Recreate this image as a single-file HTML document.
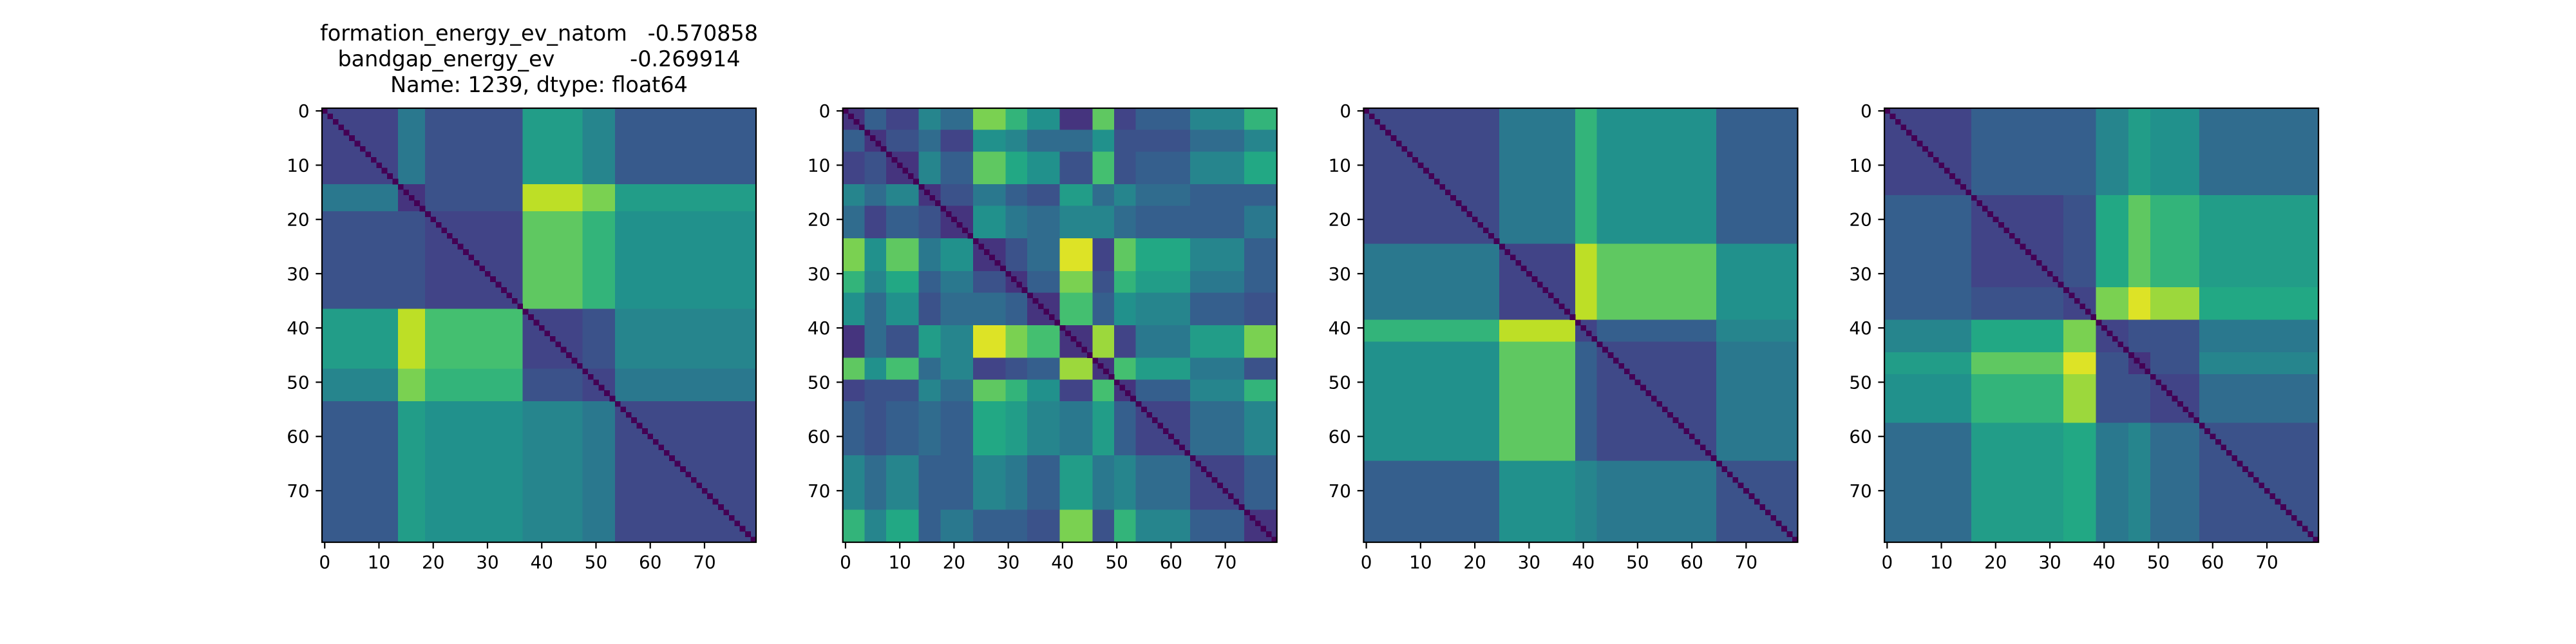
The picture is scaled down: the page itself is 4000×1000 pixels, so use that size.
<!DOCTYPE html>
<html><head><meta charset="utf-8"><style>
html,body{margin:0;padding:0;background:#fff;}
svg{display:block;}
text{font-family:"DejaVu Sans","Liberation Sans",sans-serif;font-size:27.8px;fill:#000;}
.ttl{font-size:33.4px;}
</style></head><body>
<svg id="fig" width="4000" height="1000" viewBox="0 0 4000 1000" xmlns="http://www.w3.org/2000/svg">
<rect width="4000" height="1000" fill="#fff"/>
<g text-anchor="middle" xml:space="preserve">
<text class="ttl" x="837" y="63" style="white-space:pre">formation_energy_ev_natom   -0.570858</text>
<text class="ttl" x="837" y="103" style="white-space:pre">bandgap_energy_ev           -0.269914</text>
<text class="ttl" x="837" y="143">Name: 1239, dtype: float64</text>
</g>
</svg>
<script>
// ---- data: block boundaries and block-level values (0..1 normalized) per heatmap ----
const groups1 = [0,14,19,37,48,54,80];
const blocks1 = [
 [0.2,0.4,0.25,0.55,0.45,0.28],
 [0.4,0.15,0.25,0.9,0.8,0.55],
 [0.25,0.25,0.2,0.75,0.65,0.5],
 [0.55,0.9,0.7,0.2,0.25,0.45],
 [0.45,0.8,0.65,0.25,0.2,0.4],
 [0.28,0.55,0.5,0.45,0.4,0.22]
];
const groups2 = [0,4,8,14,18,24,30,34,40,46,50,54,64,74,80];
const blocks2 = [
 [0.15,0.3,0.2,0.45,0.35,0.8,0.65,0.5,0.15,0.75,0.2,0.3,0.45,0.65],
 [0.3,0.15,0.25,0.35,0.2,0.5,0.45,0.35,0.35,0.5,0.25,0.25,0.35,0.45],
 [0.2,0.25,0.15,0.45,0.3,0.75,0.6,0.5,0.25,0.7,0.25,0.3,0.45,0.6],
 [0.45,0.35,0.45,0.15,0.25,0.4,0.3,0.25,0.55,0.35,0.45,0.35,0.3,0.3],
 [0.35,0.2,0.3,0.25,0.15,0.5,0.4,0.35,0.45,0.45,0.35,0.3,0.3,0.4],
 [0.8,0.5,0.75,0.4,0.5,0.15,0.25,0.35,0.95,0.2,0.75,0.6,0.45,0.3],
 [0.65,0.45,0.6,0.3,0.4,0.25,0.15,0.3,0.8,0.25,0.65,0.55,0.4,0.3],
 [0.5,0.35,0.5,0.25,0.35,0.35,0.3,0.15,0.7,0.3,0.5,0.45,0.3,0.25],
 [0.15,0.35,0.25,0.55,0.45,0.95,0.8,0.7,0.15,0.85,0.2,0.4,0.55,0.8],
 [0.75,0.5,0.7,0.35,0.45,0.2,0.25,0.3,0.85,0.15,0.7,0.55,0.4,0.25],
 [0.2,0.25,0.25,0.45,0.35,0.75,0.65,0.5,0.2,0.7,0.15,0.3,0.45,0.65],
 [0.3,0.25,0.3,0.35,0.3,0.6,0.55,0.45,0.4,0.55,0.3,0.2,0.35,0.45],
 [0.45,0.35,0.45,0.3,0.3,0.45,0.4,0.3,0.55,0.4,0.45,0.35,0.2,0.3],
 [0.65,0.45,0.6,0.3,0.4,0.3,0.3,0.25,0.8,0.25,0.65,0.45,0.3,0.15]
];
const groups3 = [0,25,39,43,65,80];
const blocks3 = [
 [0.22,0.4,0.65,0.5,0.3],
 [0.4,0.2,0.9,0.75,0.5],
 [0.65,0.9,0.2,0.3,0.45],
 [0.5,0.75,0.3,0.22,0.4],
 [0.3,0.5,0.45,0.4,0.25]
];
const groups4 = [0,16,33,39,45,49,58,80];
const blocks4 = [
 [0.2,0.3,0.3,0.45,0.55,0.5,0.35],
 [0.3,0.2,0.25,0.6,0.75,0.65,0.55],
 [0.3,0.25,0.2,0.8,0.95,0.85,0.6],
 [0.45,0.6,0.8,0.2,0.25,0.25,0.4],
 [0.55,0.75,0.95,0.25,0.15,0.25,0.45],
 [0.5,0.65,0.85,0.25,0.25,0.2,0.35],
 [0.35,0.55,0.6,0.4,0.45,0.35,0.25]
];
const tickValues = [0,10,20,30,40,50,60,70];
const tickLabels = ["0","10","20","30","40","50","60","70"];
const nItems = 80;

// ---- rendering ----
const NS = "http://www.w3.org/2000/svg";
const svg = document.getElementById('fig');
const viridis = ["#440154","#482475","#414487","#355f8d","#2a788e","#21918c","#22a884","#44bf70","#7ad151","#bddf26","#fde725"];
function hex(c){return [parseInt(c.slice(1,3),16),parseInt(c.slice(3,5),16),parseInt(c.slice(5,7),16)];}
function cmap(v){
  v=Math.max(0,Math.min(1,v)); const p=v*10, i=Math.min(9,Math.floor(p)), t=p-i;
  const a=hex(viridis[i]), b=hex(viridis[i+1]);
  return 'rgb('+a.map((x,k)=>Math.round(x+(b[k]-x)*t)).join(',')+')';
}
function mk(tag, attrs, parent){const e=document.createElementNS(NS,tag);for(const k in attrs)e.setAttribute(k,attrs[k]);parent.appendChild(e);return e;}

const axLefts=[500,1308.7,2117.4,2926.1], axTop=168, axSize=674;
const maps=[[groups1,blocks1],[groups2,blocks2],[groups3,blocks3],[groups4,blocks4]];

maps.forEach((m,mi)=>{
  const [groups,blocks]=m;
  const L=axLefts[mi], cell=axSize/nItems;
  const xs=i=>L+(i+0.5)*cell;
  const xe=i=>L+i*cell;
  const ys=i=>axTop+(i+0.5)*cell;
  const ye=i=>axTop+i*cell;
  const g=mk('g',{},svg);
  
  
  const cg=mk('g',{'shape-rendering':'crispEdges'},g);
  for(let r=0;r<groups.length-1;r++){
    for(let c=0;c<groups.length-1;c++){
      const rect=mk('rect',{x:xe(groups[c]),y:ye(groups[r]),width:xe(groups[c+1])-xe(groups[c])+0.5,height:ye(groups[r+1])-ye(groups[r])+0.5,fill:cmap(blocks[r][c])},cg);
      
      
    }
  }
  for(let i=0;i<nItems;i++){
    const d=mk('rect',{x:xe(i),y:ye(i),width:cell+0.3,height:cell+0.3,fill:cmap(0)},cg);
    
    
  }
  const sp=mk('rect',{x:L,y:axTop,width:axSize,height:axSize,fill:'none',stroke:'#000','stroke-width':2.2},g);
  
  
  const xa=mk('g',{},g);
  
  
  const ya=mk('g',{},g);
  
  
  tickValues.forEach((t,k)=>{
    const x=xs(t), yb=axTop+axSize;
    mk('line',{x1:x,y1:yb,x2:x,y2:yb+9.7,stroke:'#000','stroke-width':2.2},xa);
    const tx=mk('text',{x:x,y:yb+19.4+21,'text-anchor':'middle'},xa);
    tx.textContent=tickLabels[k];
    
    
    const y=ys(t);
    mk('line',{x1:L,y1:y,x2:L-9.7,y2:y,stroke:'#000','stroke-width':2.2},ya);
    const ty=mk('text',{x:L-19.4,y:y+10,'text-anchor':'end'},ya);
    ty.textContent=tickLabels[k];
    
    
  });
});
</script>
</body></html>
